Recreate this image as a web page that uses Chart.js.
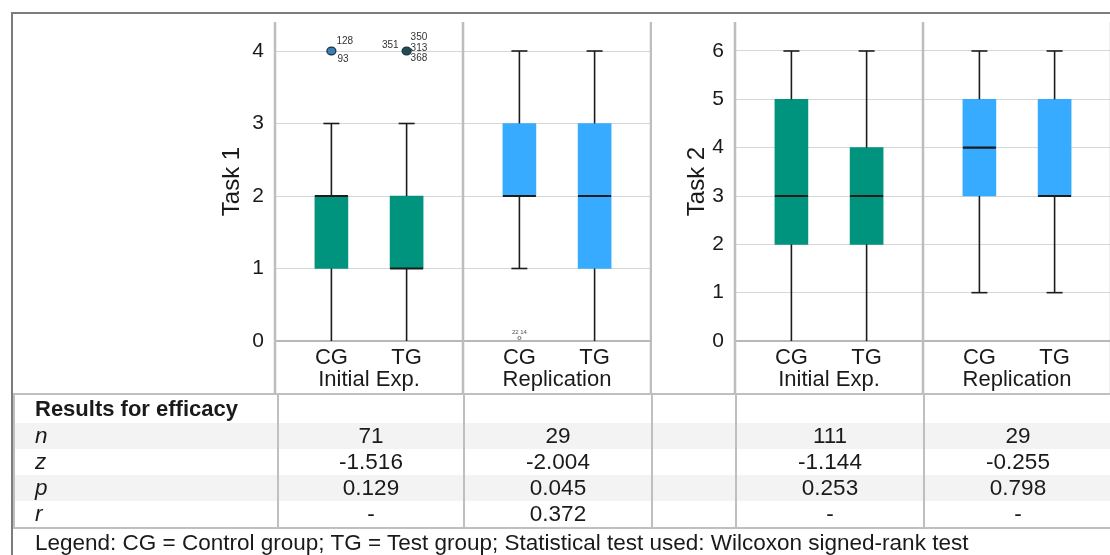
<!DOCTYPE html>
<html>
<head>
<meta charset="utf-8">
<script src="https://cdn.jsdelivr.net/npm/chart.js@4.4.1/dist/chart.umd.min.js"></script>
<style>
  html, body { margin: 0; padding: 0; background: #fff; overflow: hidden; }
  body { width: 1110px; height: 555px; position: relative; font-family: 'Liberation Sans', Arial, sans-serif; color: #1a1a1a; }
  #frame { position: absolute; left: 11px; top: 12px; width: 1200px; height: 600px; border-left: 2px solid #7c7c7c; border-top: 2px solid #7c7c7c; }
  .chart-box { position: absolute; top: 12px; width: 452px; height: 383px; }
  #box1 { left: 200px; }
  #box2 { left: 660px; }
  #stats { position: absolute; left: 13px; top: 393px; border-collapse: collapse; table-layout: fixed; width: 1098px;
           border-top: 2px solid #bfbfbf; border-bottom: 2px solid #bfbfbf; }
  #stats td { border-left: 2px solid #bfbfbf; border-right: 2px solid #bfbfbf; padding: 0; height: 26px; line-height: 26px;
              font-size: 22.5px; text-align: center; white-space: nowrap; overflow: hidden; }
  #stats tr.head td { height: 28px; line-height: 28px; }
  #stats tr.shade td { background: #f3f3f3; }
  #stats td.lab { text-align: left; padding-left: 20px; font-style: italic; }
  #stats tr.head td.lab { font-style: normal; font-weight: bold; font-size: 22px; }
  #legend { position: absolute; left: 35px; top: 531px; font-size: 22.5px; line-height: 24px; white-space: nowrap; }
</style>
</head>
<body>
<div id="frame"></div>
<div class="chart-box" id="box1"><canvas id="task1"></canvas></div>
<div class="chart-box" id="box2"><canvas id="task2"></canvas></div>
<table id="stats"></table>
<div id="legend">Legend: CG = Control group; TG = Test group; Statistical test used: Wilcoxon signed-rank test</div>
<script>
// Groups and categories (order of boxes: Initial CG, Initial TG, Replication CG, Replication TG)
const groups = ['Initial Exp.', 'Replication'];
const categories = ['CG', 'TG'];

// Task 1 box plot values
const task1Min = [0, 0, 1, 0];
const task1Q1 = [1, 1, 2, 1];
const task1Median = [2, 1, 2, 2];
const task1Q3 = [2, 2, 3, 3];
const task1Max = [3, 3, 4, 4];
const task1Outliers = [[4, ['128', '93']], [4, ['351', '350', '313', '368']], [0, ['22', '14']], null];
const task1Ticks = [0, 1, 2, 3, 4];

// Task 2 box plot values
const task2Min = [0, 0, 1, 1];
const task2Q1 = [2, 2, 3, 3];
const task2Median = [3, 3, 4, 3];
const task2Q3 = [5, 4, 5, 5];
const task2Max = [6, 6, 6, 6];
const task2Outliers = [null, null, null, null];
const task2Ticks = [0, 1, 2, 3, 4, 5, 6];

// Results table
const statRows = ['n', 'z', 'p', 'r'];
const task1N = ['71', '29'];
const task1Z = ['-1.516', '-2.004'];
const task1P = ['0.129', '0.045'];
const task1R = ['-', '0.372'];
const task2N = ['111', '29'];
const task2Z = ['-1.144', '-0.255'];
const task2P = ['0.253', '0.798'];
const task2R = ['-', '-'];

const groupColors = ['#00937d', '#36abff'];

// each group takes 5 slots on the x axis: pad, CG, gap (group label), TG, pad
const labels = [];
const boxSlots = [];
groups.forEach((g, gi) => {
  labels.push(['', ''], [categories[0], ''], ['', g], [categories[1], ''], ['', '']);
  boxSlots.push(gi * 5 + 1, gi * 5 + 3);
});

function boxPlotPlugin(stats) {
  return {
    id: 'boxPlot',
    beforeDatasetsDraw(chart) {
      const { ctx, chartArea } = chart;
      const mid = (chartArea.left + chartArea.right) / 2;
      ctx.save();
      ctx.strokeStyle = '#bdbdbd';
      ctx.lineWidth = 2.5;
      [chartArea.left, mid, chartArea.right].forEach(px => {
        ctx.beginPath();
        ctx.moveTo(px, chartArea.top);
        ctx.lineTo(px, chart.height);
        ctx.stroke();
      });
      ctx.restore();
    },
    afterDatasetsDraw(chart) {
      const { ctx, scales: { y } } = chart;
      const bars = chart.getDatasetMeta(0).data;
      const line = (x1, y1, x2, y2) => { ctx.beginPath(); ctx.moveTo(x1, y1); ctx.lineTo(x2, y2); ctx.stroke(); };
      ctx.save();
      boxSlots.forEach((slot, i) => {
        const bar = bars[slot];
        const cx = bar.x;
        const half = bar.width / 2;
        const yMin = y.getPixelForValue(stats.min[i]);
        const yQ1 = y.getPixelForValue(stats.q1[i]);
        const yMed = y.getPixelForValue(stats.median[i]);
        const yQ3 = y.getPixelForValue(stats.q3[i]);
        const yMax = y.getPixelForValue(stats.max[i]);
        ctx.strokeStyle = '#1c1c1c';
        ctx.lineWidth = 1.6;
        line(cx, yMin, cx, yQ1);
        line(cx, yQ3, cx, yMax);
        // caps (the one on the axis is hidden behind the axis line)
        if (stats.min[i] > y.min) line(cx - 8, yMin, cx + 8, yMin);
        line(cx - 8, yMax, cx + 8, yMax);
        ctx.lineWidth = 2.2;
        line(cx - half, yMed, cx + half, yMed);

        const out = stats.outliers[i];
        if (!out) return;
        const [val, ids] = out;
        const py = y.getPixelForValue(val);
        if (val <= y.min) {
          // tiny marker sitting on the axis
          ctx.lineWidth = 0.8;
          ctx.strokeStyle = '#555';
          ctx.beginPath(); ctx.arc(cx, py - 3, 1.6, 0, Math.PI * 2); ctx.stroke();
          ctx.fillStyle = '#555';
          ctx.font = '6px "Liberation Sans", Arial';
          ctx.textAlign = 'center';
          ctx.textBaseline = 'middle';
          ctx.fillText(ids.join(' '), cx, py - 9);
          return;
        }
        ctx.lineWidth = 1.2;
        ctx.strokeStyle = '#12303f';
        ctx.fillStyle = ids.length > 2 ? '#214b55' : '#3b7fb4';
        ctx.beginPath();
        ctx.ellipse(cx, py, 4.5, 3.8, 0, 0, Math.PI * 2);
        ctx.fill();
        ctx.stroke();
        const layouts = {
          2: [[5, -10, 'left'], [6, 8, 'left']],
          4: [[-8, -6, 'right'], [4, -14, 'left'], [4, -3, 'left'], [4, 7, 'left']]
        };
        ctx.fillStyle = '#333';
        ctx.font = '10px "Liberation Sans", Arial';
        ctx.textBaseline = 'middle';
        (layouts[ids.length] || []).forEach(([dx, dy, align], k) => {
          ctx.textAlign = align;
          ctx.fillText(ids[k], cx + dx, py + dy);
        });
      });
      ctx.restore();
    }
  };
}

function makeChart(id, title, yMax, ticks, titlePad, stats) {
  const boxes = labels.map(() => null);
  const colors = labels.map(() => 'rgba(0,0,0,0)');
  boxSlots.forEach((slot, i) => {
    boxes[slot] = [stats.q1[i], stats.q3[i]];
    colors[slot] = groupColors[Math.floor(i / categories.length)];
  });
  return new Chart(document.getElementById(id), {
    type: 'bar',
    data: {
      labels,
      datasets: [{
        data: boxes,
        backgroundColor: colors,
        borderWidth: 0,
        borderSkipped: false,
        barThickness: 33
      }]
    },
    options: {
      responsive: true,
      maintainAspectRatio: false,
      animation: false,
      devicePixelRatio: 1,
      layout: { padding: { top: 10, right: 1, bottom: 0, left: 0 } },
      plugins: { legend: { display: false }, tooltip: { enabled: false } },
      scales: {
        x: {
          grid: { display: false, drawTicks: false },
          border: { display: false },
          ticks: {
            autoSkip: false, maxRotation: 0, padding: 6, color: '#1a1a1a',
            font: { family: '"Liberation Sans", Arial', size: 22, lineHeight: 1.0 }
          },
          afterFit: s => { s.height = 54; s.paddingLeft = 0; s.paddingRight = 0; }
        },
        y: {
          min: 0,
          max: yMax,
          afterBuildTicks: s => { s.ticks = ticks.map(v => ({ value: v })); },
          grid: {
            drawTicks: false,
            color: c => (c.tick && c.tick.value === 0 ? '#b8b8b8' : '#d6d6d6'),
            lineWidth: c => (c.tick && c.tick.value === 0 ? 2 : 1)
          },
          border: { display: false },
          ticks: { padding: 11, color: '#1a1a1a', font: { family: '"Liberation Sans", Arial', size: 21 } },
          title: {
            display: true, text: title, color: '#1a1a1a',
            padding: { top: titlePad, bottom: 0 },
            font: { family: '"Liberation Sans", Arial', size: 24 }
          },
          afterFit: s => { s.width = 75; s.paddingTop = 0; s.paddingBottom = 0; }
        }
      }
    },
    plugins: [boxPlotPlugin(stats)]
  });
}

makeChart('task1', 'Task 1', 4.4, task1Ticks, 18, {
  min: task1Min, q1: task1Q1, median: task1Median, q3: task1Q3, max: task1Max, outliers: task1Outliers
});
makeChart('task2', 'Task 2', 6.6, task2Ticks, 23, {
  min: task2Min, q1: task2Q1, median: task2Median, q3: task2Q3, max: task2Max, outliers: task2Outliers
});

// Results table
const table = document.getElementById('stats');
const colWidths = [264, 186, 188, 84, 188, 188];
let html = '<colgroup>' + colWidths.map(w => `<col style="width:${w}px">`).join('') + '</colgroup>';
html += '<tr class="head"><td class="lab">Results for efficacy</td><td></td><td></td><td></td><td></td><td></td></tr>';
const task1Values = [task1N, task1Z, task1P, task1R];
const task2Values = [task2N, task2Z, task2P, task2R];
statRows.forEach((row, r) => {
  html += `<tr class="${r % 2 === 0 ? 'shade' : ''}"><td class="lab">${row}</td>` +
    `<td>${task1Values[r][0]}</td><td>${task1Values[r][1]}</td><td></td>` +
    `<td>${task2Values[r][0]}</td><td>${task2Values[r][1]}</td></tr>`;
});
table.innerHTML = html;
</script>
</body>
</html>
